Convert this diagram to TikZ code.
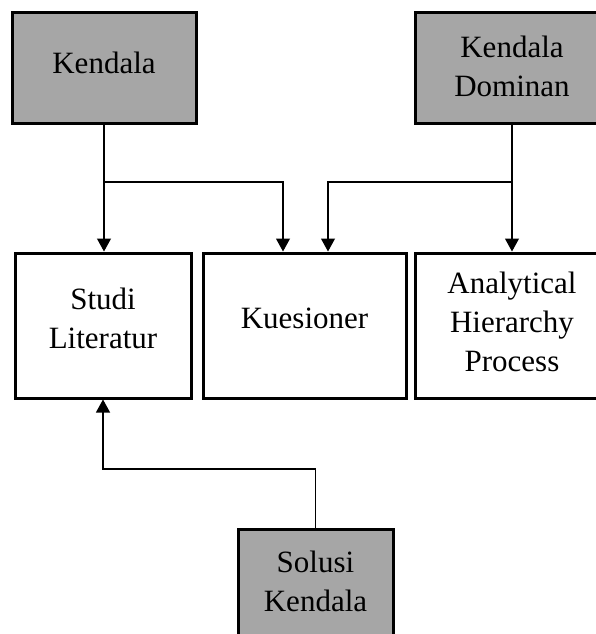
\documentclass[tikz,border=0pt]{standalone}
\usepackage{fontspec}
\setmainfont{Liberation Serif}
\usetikzlibrary{arrows.meta}
\definecolor{boxgray}{HTML}{A6A6A6}
\begin{document}
\begin{tikzpicture}[x=1pt,y=-1pt,
  box/.style={draw=black, line width=3pt, inner sep=0pt},
  graybox/.style={box, fill=boxgray},
  txt/.style={inner sep=0pt, align=center, font=\fontsize{31}{39}\selectfont},
  arr/.style={draw=black, line width=1.1pt, -{Triangle[length=13pt,width=14pt]}}]
\useasboundingbox (0,0) rectangle (596,634);
\clip (0,0) rectangle (596,634);
\node[graybox, minimum width=184pt, minimum height=110pt] (kendala) at (104,68) {};
\node[graybox, minimum width=194pt, minimum height=110pt] (dominan) at (512,68) {};
\node[box, minimum width=176pt, minimum height=145pt] (studi) at (103,325.5) {};
\node[box, minimum width=203pt, minimum height=145pt] (kues) at (304.5,325.5) {};
\node[box, minimum width=194pt, minimum height=145pt] (ahp) at (512,325.5) {};
\node[graybox, minimum width=155pt, minimum height=112pt] (solusi) at (315.5,585) {};
\node[txt] (tkendala) at (104,63) {Kendala};
\node[txt] (tdominan) at (512,66) {Kendala\\Dominan};
\node[txt] (tstudi) at (103,318) {Studi\\Literatur};
\node[txt] (tkues) at (304.5,318) {Kuesioner};
\node[txt] (tahp) at (512,322) {Analytical\\Hierarchy\\Process};
\node[txt] (tsolusi) at (315.5,581) {Solusi\\Kendala};
\coordinate (j1) at (104,182);
\coordinate (j2) at (512,182);
\coordinate (s1) at (103,469);
\draw[arr] (kendala.south) -- (kendala.south |- studi.north);
\draw[arr] (j1) -| ([xshift=-21.5pt]kues.north);
\draw[arr] (dominan.south) -- (ahp.north);
\draw[arr] (j2) -| ([xshift=23.5pt]kues.north);
\draw[arr] (solusi.north) |- (s1) -- (studi.south);
\end{tikzpicture}
\end{document}
